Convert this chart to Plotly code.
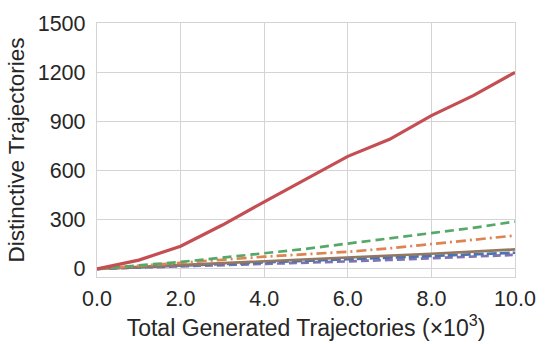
import plotly.graph_objects as go

steps = [0, 1, 2, 3, 4, 5, 6, 7, 8, 9, 10]

red = [0, 53, 138, 267, 409, 549, 686, 790, 935, 1057, 1199]
green = [0, 20, 42, 68, 95, 122, 154, 185, 215, 250, 288]
orange = [0, 17, 36, 55, 74, 90, 104, 125, 150, 175, 203]
brown = [0, 11, 23, 35, 46, 58, 69, 80, 92, 105, 118]
blue = [0, 9, 19, 29, 39, 49, 59, 68, 77, 88, 98]
purple = [0, 7, 15, 23, 31, 38, 45, 54, 63, 74, 85]

fig = go.Figure()
fig.add_trace(go.Scatter(x=steps, y=purple, mode="lines", line=dict(color="#8172B3", width=2.7, dash="8px,4px")))
fig.add_trace(go.Scatter(x=steps, y=blue, mode="lines", line=dict(color="#4C72B0", width=2.7, dash="10px,3px")))
fig.add_trace(go.Scatter(x=steps, y=brown, mode="lines", line=dict(color="#937860", width=2.7)))
fig.add_trace(go.Scatter(x=steps, y=orange, mode="lines", line=dict(color="#DD8452", width=2.7, dash="10px,4px,2px,4px")))
fig.add_trace(go.Scatter(x=steps, y=green, mode="lines", line=dict(color="#55A868", width=2.7, dash="9px,5px")))
fig.add_trace(go.Scatter(x=steps, y=red, mode="lines", line=dict(color="#C44E52", width=3.2)))

fig.update_layout(
    width=548, height=344,
    margin=dict(l=97, r=30, t=15, b=67),
    paper_bgcolor="white", plot_bgcolor="white",
    showlegend=False,
    font=dict(family="Liberation Sans, Arial, sans-serif", size=21.5, color="#262626"),
)
fig.update_xaxes(
    range=[0, 10], tickvals=[0, 2, 4, 6, 8, 10], tickformat=".1f",
    showgrid=True, gridcolor="#d4d4d4", gridwidth=1.3,
    showline=True, linecolor="#d4d4d4", linewidth=1.3, mirror=True,
    zeroline=False, ticks="", ticklabelstandoff=2,
    title=dict(text="Total Generated Trajectories (×10<sup>3</sup>)", font=dict(size=23), standoff=1),
)
fig.update_yaxes(
    range=[-50, 1500], tickvals=[0, 300, 600, 900, 1200, 1500],
    showgrid=True, gridcolor="#d4d4d4", gridwidth=1.3,
    showline=True, linecolor="#d4d4d4", linewidth=1.3, mirror=True,
    zeroline=False, ticks="", ticklabelstandoff=6,
    title=dict(text="Distinctive Trajectories", font=dict(size=22.5), standoff=6),
)

fig.write_html("out.html", config={"displayModeBar": False},
               post_script="document.body.style.margin='0';")
